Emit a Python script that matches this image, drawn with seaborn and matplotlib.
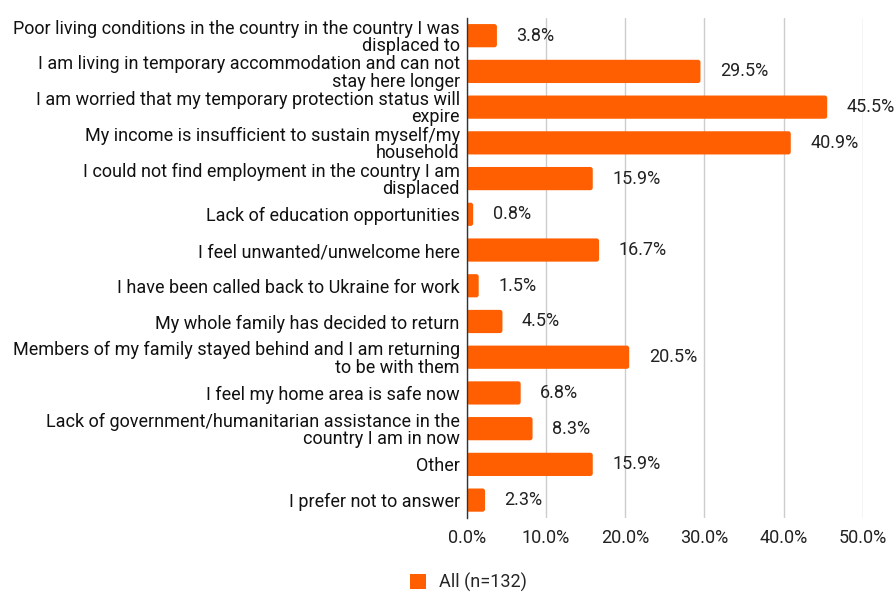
import matplotlib
matplotlib.use("Agg")
import matplotlib.pyplot as plt
import seaborn as sns
import pandas as pd
from matplotlib.patches import Patch, FancyBboxPatch

categories = [
    "Poor living conditions in the country in the country I was\ndisplaced to",
    "I am living in temporary accommodation and can not\nstay here longer",
    "I am worried that my temporary protection status will\nexpire",
    "My income is insufficient to sustain myself/my\nhousehold",
    "I could not find employment in the country I am\ndisplaced",
    "Lack of education opportunities",
    "I feel unwanted/unwelcome here",
    "I have been called back to Ukraine for work",
    "My whole family has decided to return",
    "Members of my family stayed behind and I am returning\nto be with them",
    "I feel my home area is safe now",
    "Lack of government/humanitarian assistance in the\ncountry I am in now",
    "Other",
    "I prefer not to answer",
]
values = [3.8, 29.5, 45.5, 40.9, 15.9, 0.8, 16.7, 1.5, 4.5, 20.5, 6.8, 8.3, 15.9, 2.3]
series_name = "All (n=132)"
x_ticks = [0, 10, 20, 30, 40, 50]

sns.set_theme(style="white")
plt.rcParams["font.family"] = ["Roboto", "DejaVu Sans"]

df = pd.DataFrame({"reason": categories, "share": values, "series": series_name})

fig = plt.figure(figsize=(8.96, 5.94), dpi=100)
ax = fig.add_axes([0.521, 0.128, 0.442, 0.842])

bar_color = "#FF5F00"
fs = 13
sns.barplot(data=df, x="share", y="reason", hue="series", palette=[bar_color],
            orient="h", width=0.65, ax=ax, legend=False, saturation=1)

ax.set_xlim(0, 50)
ax.set_xticks(x_ticks)
ax.set_xticklabels([f"{t:.1f}%" for t in x_ticks], fontsize=fs, color="#222222")
ax.tick_params(axis="x", length=0, pad=8)
ax.tick_params(axis="y", length=0, pad=5)
ax.set_yticks(range(len(categories)))
ax.set_yticklabels(categories, fontsize=fs, color="#111111", linespacing=0.95)
ax.set_xlabel("")
ax.set_ylabel("")

ax.grid(axis="x", color="#cccccc", linewidth=1)
ax.set_axisbelow(True)
for s in ["top", "right", "bottom"]:
    ax.spines[s].set_visible(False)
ax.spines["left"].set_color("#333333")
ax.spines["left"].set_linewidth(1)
ax.spines["left"].set_zorder(5)

# Slightly rounded bar ends
x_per_px = 50 / (0.442 * 896)
y_per_px = len(categories) / (0.842 * 594)
for container in ax.containers:
    for rect in container:
        x0, y0 = rect.get_x(), rect.get_y()
        w, h = rect.get_width(), rect.get_height()
        r = min(2.5 * x_per_px, w / 2)
        fancy = FancyBboxPatch((x0, y0), w, h,
                               boxstyle=f"round,pad=0,rounding_size={r}",
                               mutation_aspect=y_per_px / x_per_px,
                               facecolor=bar_color, edgecolor="none", zorder=rect.get_zorder())
        ax.add_patch(fancy)
        rect.set_visible(False)
    ax.bar_label(container, labels=[f"{v:.1f}%" for v in values],
                 padding=14, fontsize=fs, color="#222222")

handles = [Patch(facecolor=bar_color, edgecolor="none", label=series_name)]
fig.legend(handles=handles, loc="center", bbox_to_anchor=(0.523, 0.02),
           frameon=False, fontsize=fs, handlelength=0.9, handleheight=0.9,
           handletextpad=0.7)

fig.savefig("out.png", dpi=100)
